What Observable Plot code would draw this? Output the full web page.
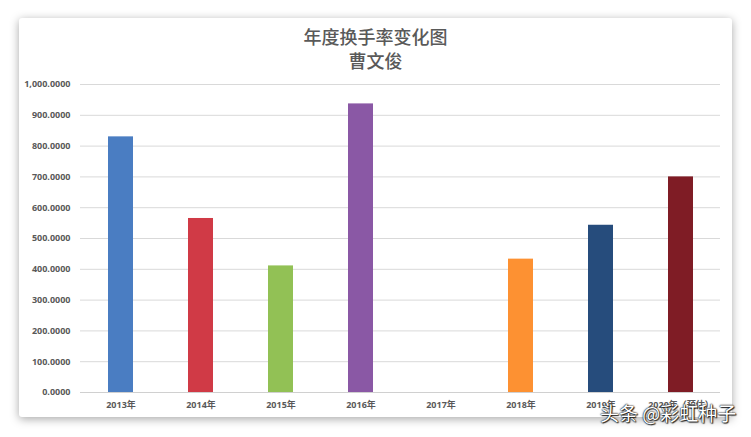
<!DOCTYPE html>
<html>
<head>
<meta charset="utf-8">
<script src="https://cdn.jsdelivr.net/npm/d3@7"></script>
<script src="https://cdn.jsdelivr.net/npm/@observablehq/plot@0.6"></script>
<style>
  html, body { margin: 0; padding: 0; background: #ffffff; }
  body { width: 751px; height: 437px; position: relative; overflow: hidden; }
  #card {
    position: absolute; left: 19px; top: 18px; width: 713px; height: 399px;
    background: #fff; border-radius: 3px;
    box-shadow: 0 2px 10px rgba(0,0,0,0.35);
  }
  .title {
    position: absolute; left: 0; width: 751px; text-align: center;
    font-family: "Noto Sans CJK SC", sans-serif; font-size: 18px; font-weight: 500;
    color: #595959; line-height: 24px;
  }
  #chart { position: absolute; left: 0; top: 72px; }
  #chart svg text { font-weight: 700; }
  #wm {
    position: absolute; left: 600px; top: 399px;
    font-family: "Noto Sans CJK SC", sans-serif; font-size: 19px; color: #fff;
    text-shadow: 0 0 2px #000, 0 0 1px #000, 1px 1px 1px #333;
    white-space: nowrap;
  }
</style>
</head>
<body>
<div id="card"></div>
<div class="title" style="top:24px">年度换手率变化图</div>
<div class="title" style="top:48px">曹文俊</div>
<div id="chart"></div>
<div id="wm">头条 @彩虹种子</div>
<script>
const years = ["2013年","2014年","2015年","2016年","2017年","2018年","2019年","2020年（预估）"];
const values = [830, 565, 411, 937, 0, 433, 543, 700];
const colors = ["#4a7dc2","#d03a46","#92c155","#8a58a5","#c0c0c0","#fd9132","#264c7c","#7f1c25"];
const yTicks = [0,100,200,300,400,500,600,700,800,900,1000];

const data = years.map((y, i) => ({year: y, value: values[i]}));

const chart = Plot.plot({
  width: 751,
  height: 345,
  marginTop: 12,
  marginBottom: 25,
  marginLeft: 80,
  marginRight: 31,
  style: {fontFamily: "'Open Sans', 'Noto Sans CJK SC', sans-serif", fontSize: "9px", fontWeight: "bold", color: "#595959", background: "transparent"},
  x: {domain: years, paddingInner: 0.6875, paddingOuter: 0.34375, label: null, tickSize: 0, tickPadding: 9},
  y: {domain: [0, 1000], ticks: yTicks, tickFormat: d3.format(",.4f"), label: null, tickSize: 0, tickPadding: 10},
  color: {domain: years, range: colors},
  marks: [
    Plot.gridY(yTicks, {stroke: "#d9d9d9", strokeOpacity: 1}),
    Plot.barY(data, {x: "year", y: "value", fill: "year"}),
    Plot.ruleY([0], {stroke: "#d0d0d0"})
  ]
});
document.getElementById("chart").appendChild(chart);
</script>
</body>
</html>
